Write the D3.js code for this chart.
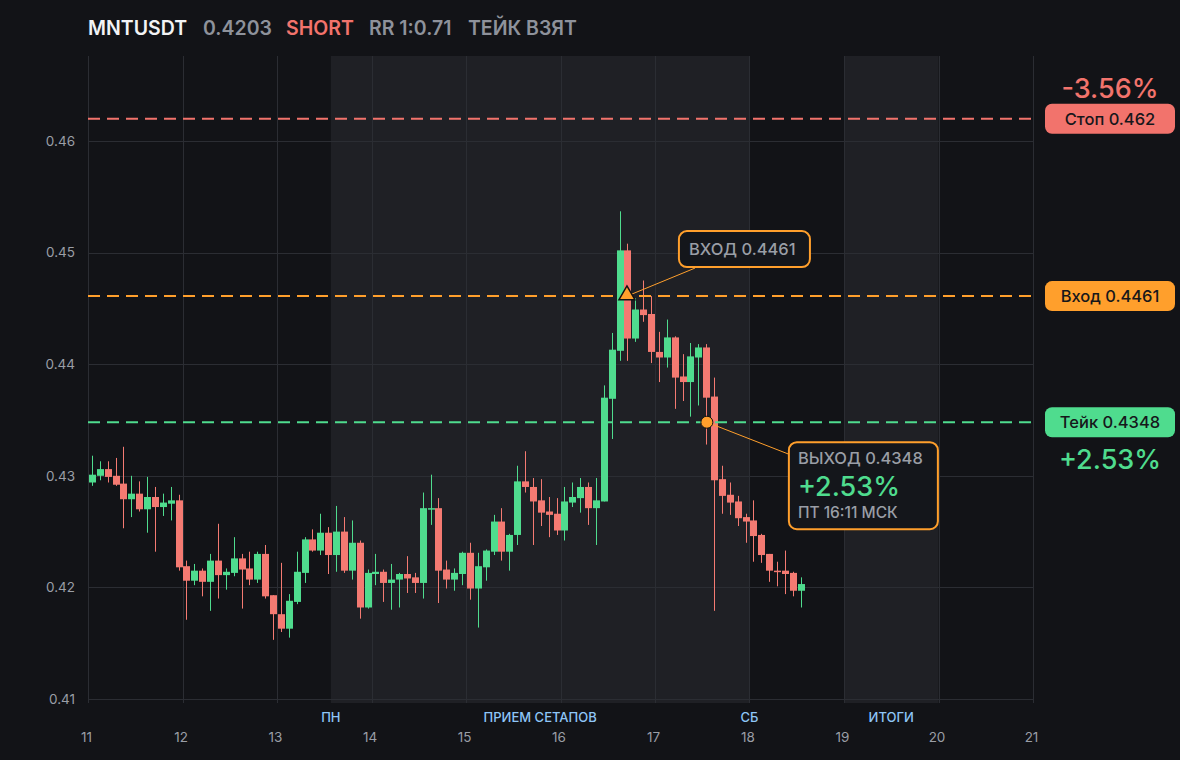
<!doctype html>
<html lang="ru">
<head>
<meta charset="UTF-8">
<title>MNTUSDT</title>
<style>
  html, body { margin: 0; padding: 0; background: #121317; }
  svg text { font-family: Inter, "Noto Sans", sans-serif; }
</style>
</head>
<body>
<div id="chart"></div>
<script src="https://d3js.org/d3.v7.min.js"></script>
<script>
// 2h candles starting at day 11 00:00 UTC
const firstDay = 11
const stepHours = 2

const opens = [
  0.4294, 0.4300, 0.4306, 0.4300, 0.4293, 0.4279, 0.4284, 0.4270, 0.4281, 0.4272, 0.4275, 0.4278,
  0.4219, 0.4206, 0.4215, 0.4205, 0.4224, 0.4211, 0.4213, 0.4226, 0.4217, 0.4207, 0.4230, 0.4193,
  0.4176, 0.4163, 0.4187, 0.4213, 0.4243, 0.4233, 0.4249, 0.4229, 0.4250, 0.4215, 0.4240, 0.4182,
  0.4212, 0.4214, 0.4204, 0.4207, 0.4212, 0.4209, 0.4204, 0.4270, 0.4271, 0.4216, 0.4207, 0.4212,
  0.4231, 0.4199, 0.4218, 0.4232, 0.4259, 0.4232, 0.4247, 0.4295, 0.4290, 0.4278, 0.4268, 0.4266,
  0.4251, 0.4276, 0.4280, 0.4290, 0.4271, 0.4277, 0.4369, 0.4412, 0.4502, 0.4423, 0.4449, 0.4445,
  0.4411, 0.4406, 0.4424, 0.4389, 0.4384, 0.4406, 0.4415, 0.4371, 0.4297, 0.4283, 0.4277, 0.4263,
  0.4260, 0.4247, 0.4230, 0.4215, 0.4215, 0.4213, 0.4197
]
const highs = [
  0.4318, 0.4313, 0.4313, 0.4316, 0.4326, 0.4300, 0.4295, 0.4299, 0.4290, 0.4284, 0.4290, 0.4283,
  0.4224, 0.4221, 0.4217, 0.4230, 0.4257, 0.4217, 0.4245, 0.4230, 0.4232, 0.4232, 0.4238, 0.4193,
  0.4222, 0.4194, 0.4232, 0.4245, 0.4252, 0.4266, 0.4254, 0.4273, 0.4263, 0.4260, 0.4242, 0.4216,
  0.4230, 0.4216, 0.4221, 0.4213, 0.4228, 0.4213, 0.4285, 0.4301, 0.4280, 0.4224, 0.4217, 0.4232,
  0.4240, 0.4231, 0.4234, 0.4265, 0.4271, 0.4248, 0.4309, 0.4322, 0.4298, 0.4297, 0.4281, 0.4280,
  0.4290, 0.4294, 0.4298, 0.4294, 0.4298, 0.4381, 0.4428, 0.4537, 0.4508, 0.4459, 0.4475, 0.4461,
  0.4429, 0.4440, 0.4425, 0.4409, 0.4419, 0.4418, 0.4418, 0.4388, 0.4309, 0.4294, 0.4282, 0.4266,
  0.4278, 0.4248, 0.4230, 0.4223, 0.4233, 0.4214, 0.4209
]
const lows = [
  0.4291, 0.4296, 0.4294, 0.4291, 0.4253, 0.4263, 0.4268, 0.4249, 0.4232, 0.4264, 0.4260, 0.4215,
  0.4171, 0.4202, 0.4192, 0.4179, 0.4190, 0.4198, 0.4210, 0.4181, 0.4202, 0.4204, 0.4190, 0.4153,
  0.4160, 0.4155, 0.4185, 0.4204, 0.4232, 0.4229, 0.4212, 0.4214, 0.4213, 0.4207, 0.4172, 0.4181,
  0.4202, 0.4187, 0.4180, 0.4182, 0.4195, 0.4195, 0.4190, 0.4256, 0.4186, 0.4199, 0.4197, 0.4202,
  0.4189, 0.4164, 0.4206, 0.4229, 0.4224, 0.4215, 0.4238, 0.4285, 0.4238, 0.4255, 0.4245, 0.4247,
  0.4242, 0.4272, 0.4267, 0.4256, 0.4238, 0.4277, 0.4333, 0.4403, 0.4403, 0.4420, 0.4438, 0.4401,
  0.4384, 0.4397, 0.4360, 0.4367, 0.4353, 0.4363, 0.4328, 0.4179, 0.4266, 0.4265, 0.4255, 0.4240,
  0.4223, 0.4222, 0.4205, 0.4201, 0.4194, 0.4192, 0.4182
]
const closes = [
  0.4301, 0.4306, 0.4299, 0.4292, 0.4279, 0.4284, 0.4270, 0.4281, 0.4272, 0.4276, 0.4278, 0.4218,
  0.4206, 0.4215, 0.4205, 0.4224, 0.4211, 0.4214, 0.4226, 0.4216, 0.4207, 0.4230, 0.4192, 0.4176,
  0.4163, 0.4188, 0.4214, 0.4243, 0.4233, 0.4249, 0.4229, 0.4250, 0.4215, 0.4240, 0.4182, 0.4213,
  0.4214, 0.4204, 0.4207, 0.4212, 0.4208, 0.4204, 0.4271, 0.4271, 0.4215, 0.4207, 0.4213, 0.4231,
  0.4199, 0.4219, 0.4233, 0.4259, 0.4232, 0.4247, 0.4295, 0.4290, 0.4277, 0.4267, 0.4265, 0.4251,
  0.4277, 0.4281, 0.4290, 0.4271, 0.4278, 0.4370, 0.4413, 0.4502, 0.4423, 0.4449, 0.4444, 0.4411,
  0.4406, 0.4424, 0.4388, 0.4384, 0.4407, 0.4415, 0.4370, 0.4296, 0.4282, 0.4276, 0.4262, 0.4259,
  0.4246, 0.4229, 0.4215, 0.4214, 0.4212, 0.4197, 0.4203
]

const dayTicks = [11, 12, 13, 14, 15, 16, 17, 18, 19, 20, 21]
const priceTicks = [0.41, 0.42, 0.43, 0.44, 0.45, 0.46]

const bands = [
  { from: 13.57, to: 18 },
  { from: 19, to: 20 }
]
const bandLabels = [
  { at: 13.57, text: 'ПН' },
  { at: 15.785, text: 'ПРИЕМ СЕТАПОВ' },
  { at: 18, text: 'СБ' },
  { at: 19.5, text: 'ИТОГИ' }
]

const stopPrice = 0.462
const entryPrice = 0.4461
const takePrice = 0.4348
const entryTime = 16.703   // day fraction, UTC
const exitTime = 17.549

const header = [
  { text: 'MNTUSDT', x: 88, color: '#f2f3f5' },
  { text: '0.4203', x: 203, color: '#8e929b' },
  { text: 'SHORT', x: 286, color: '#f2736c' },
  { text: 'RR 1:0.71', x: 369, color: '#8e929b' },
  { text: 'ТЕЙК ВЗЯТ', x: 468, color: '#8e929b' }
]

const RED = '#f47a72'
const GREEN = '#4fdc8e'
const ORANGE = '#ff9f2c'
const STOP = '#f2736c'

const width = 1180
const height = 760
const plotTop = 56
const plotBottom = 703

const x = d3.scaleLinear().domain([11, 21]).range([88, 1033])
const y = d3.scaleLinear().domain([0.41, 0.46]).range([699, 141])

const candles = opens.map((o, i) => ({
  t: firstDay + (i * stepHours + stepHours / 2) / 24,
  o, h: highs[i], l: lows[i], c: closes[i]
}))

const svg = d3.select('#chart')
  .append('svg')
  .attr('width', width)
  .attr('height', height)
  .style('display', 'block')
  .style('background', '#121317')

// background bands
svg.append('g')
  .selectAll('rect')
  .data(bands)
  .join('rect')
  .attr('x', d => x(d.from))
  .attr('width', d => x(d.to) - x(d.from))
  .attr('y', plotTop)
  .attr('height', plotBottom - plotTop)
  .attr('fill', '#1f2025')

// grid
const grid = svg.append('g').attr('stroke', '#2b2d33').attr('stroke-width', 1)
grid.selectAll('.vg')
  .data(dayTicks)
  .join('line')
  .attr('class', 'vg')
  .attr('x1', d => Math.round(x(d)) + 0.5)
  .attr('x2', d => Math.round(x(d)) + 0.5)
  .attr('y1', plotTop)
  .attr('y2', plotBottom)
grid.selectAll('.hg')
  .data(priceTicks)
  .join('line')
  .attr('class', 'hg')
  .attr('x1', x(11))
  .attr('x2', x(21))
  .attr('y1', d => Math.round(y(d)) + 0.5)
  .attr('y2', d => Math.round(y(d)) + 0.5)

// y axis labels
const yAxis = d3.axisLeft(y).tickValues(priceTicks).tickFormat(d3.format('.2f')).tickSize(0).tickPadding(0)
svg.append('g')
  .attr('transform', 'translate(75,0)')
  .call(yAxis)
  .call(g => g.select('.domain').remove())
  .call(g => g.selectAll('text')
    .attr('fill', '#9a9ea6')
    .style('font-size', '13.5px')
    .style('font-family', 'Inter, sans-serif'))

// x axis labels
const xAxis = d3.axisBottom(x).tickValues(dayTicks).tickFormat(d3.format('d')).tickSize(0).tickPadding(0)
svg.append('g')
  .attr('transform', 'translate(-2,732)')
  .call(xAxis)
  .call(g => g.select('.domain').remove())
  .call(g => g.selectAll('text')
    .attr('fill', '#9a9ea6')
    .style('font-size', '13.5px')
    .style('font-family', 'Inter, sans-serif'))

svg.append('g')
  .selectAll('text')
  .data(bandLabels)
  .join('text')
  .attr('x', d => x(d.at))
  .attr('y', 722)
  .attr('text-anchor', 'middle')
  .attr('fill', '#8fc6f7')
  .style('font-size', '13px')
  .style('font-weight', 500)
  .text(d => d.text)

// candles
const bw = 7
const cg = svg.append('g')
cg.selectAll('.wick')
  .data(candles)
  .join('line')
  .attr('class', 'wick')
  .attr('x1', d => Math.round(x(d.t)) + 0.5)
  .attr('x2', d => Math.round(x(d.t)) + 0.5)
  .attr('y1', d => y(d.h))
  .attr('y2', d => y(d.l))
  .attr('stroke', d => d.c >= d.o ? GREEN : RED)
  .attr('stroke-width', 1)
cg.selectAll('.body')
  .data(candles)
  .join('rect')
  .attr('class', 'body')
  .attr('x', d => Math.round(x(d.t)) + 0.5 - bw / 2)
  .attr('width', bw)
  .attr('y', d => y(Math.max(d.o, d.c)))
  .attr('height', d => Math.max(1.5, Math.abs(y(d.o) - y(d.c))))
  .attr('fill', d => d.c >= d.o ? GREEN : RED)

// level lines
const levels = [
  { p: stopPrice, color: STOP, label: 'Стоп 0.462' },
  { p: entryPrice, color: ORANGE, label: 'Вход 0.4461' },
  { p: takePrice, color: GREEN, label: 'Тейк 0.4348' }
]
svg.append('g')
  .selectAll('line')
  .data(levels)
  .join('line')
  .attr('x1', x(11))
  .attr('x2', x(21))
  .attr('y1', d => y(d.p))
  .attr('y2', d => y(d.p))
  .attr('stroke', d => d.color)
  .attr('stroke-width', 2)
  .attr('stroke-dasharray', '12 7')

const pills = svg.append('g')
  .selectAll('g')
  .data(levels)
  .join('g')
  .attr('transform', d => `translate(1045, ${y(d.p)})`)
pills.append('rect')
  .attr('x', 0).attr('y', -15)
  .attr('width', 130).attr('height', 30)
  .attr('rx', 7)
  .attr('fill', d => d.color)
pills.append('text')
  .attr('x', 65).attr('y', 0)
  .attr('dy', '0.36em')
  .attr('text-anchor', 'middle')
  .attr('fill', '#16171b')
  .style('font-size', '16.5px')
  .style('font-weight', 500)
  .text(d => d.label)

svg.append('text')
  .attr('x', 1110).attr('y', y(stopPrice) - 21)
  .attr('text-anchor', 'middle')
  .attr('fill', STOP)
  .style('font-size', '27px')
  .style('font-weight', 500)
  .text('-3.56%')
svg.append('text')
  .attr('x', 1110).attr('y', y(takePrice) + 47)
  .attr('text-anchor', 'middle')
  .attr('fill', GREEN)
  .style('font-size', '27px')
  .style('font-weight', 500)
  .text('+2.53%')

// entry / exit callouts
const ex = x(entryTime), ey = y(entryPrice)
const qx = x(exitTime), qy = y(takePrice)

svg.append('line')
  .attr('x1', ex).attr('y1', ey)
  .attr('x2', ex + 68).attr('y2', ey - 28)
  .attr('stroke', ORANGE).attr('stroke-width', 1)
svg.append('line')
  .attr('x1', qx).attr('y1', qy)
  .attr('x2', qx + 82).attr('y2', qy + 32)
  .attr('stroke', ORANGE).attr('stroke-width', 1)

svg.append('rect')
  .attr('x', ex + 52).attr('y', ey - 65)
  .attr('width', 131).attr('height', 36)
  .attr('rx', 8)
  .attr('fill', '#14161b')
  .attr('stroke', ORANGE).attr('stroke-width', 2)
svg.append('text')
  .attr('x', ex + 62).attr('y', ey - 41)
  .attr('fill', '#9a9ea6')
  .style('font-size', '16.5px')
  .style('font-weight', 500)
  .text('ВХОД 0.4461')

svg.append('rect')
  .attr('x', qx + 82).attr('y', qy + 20)
  .attr('width', 149).attr('height', 87)
  .attr('rx', 8)
  .attr('fill', '#14161b')
  .attr('stroke', ORANGE).attr('stroke-width', 2)
svg.append('text')
  .attr('x', qx + 91).attr('y', qy + 42)
  .attr('fill', '#9a9ea6')
  .style('font-size', '16.5px')
  .style('font-weight', 500)
  .text('ВЫХОД 0.4348')
svg.append('text')
  .attr('x', qx + 91).attr('y', qy + 74)
  .attr('fill', GREEN)
  .style('font-size', '27px')
  .style('font-weight', 500)
  .text('+2.53%')
svg.append('text')
  .attr('x', qx + 91).attr('y', qy + 96)
  .attr('fill', '#9a9ea6')
  .style('font-size', '15.5px')
  .style('font-weight', 500)
  .text('ПТ 16:11 МСК')

// markers
svg.append('path')
  .attr('d', d3.symbol(d3.symbolTriangle, 110)())
  .attr('transform', `translate(${ex}, ${ey - 1})`)
  .attr('fill', ORANGE)
  .attr('stroke', '#111214')
  .attr('stroke-width', 1.5)
svg.append('circle')
  .attr('cx', qx).attr('cy', qy)
  .attr('r', 6)
  .attr('fill', ORANGE)
  .attr('stroke', '#111214')
  .attr('stroke-width', 1)

// header
svg.append('g')
  .selectAll('text')
  .data(header)
  .join('text')
  .attr('x', d => d.x)
  .attr('y', 35)
  .attr('fill', d => d.color)
  .style('font-size', '19.5px')
  .style('font-weight', 600)
  .text(d => d.text)
</script>
</body>
</html>
